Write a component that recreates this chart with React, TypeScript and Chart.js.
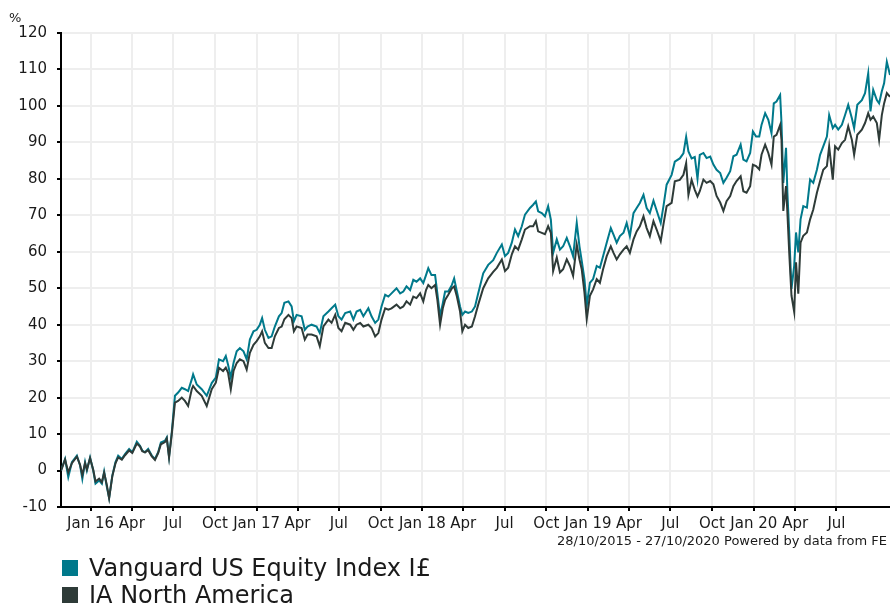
import React, { useEffect, useRef } from "react";
import { Chart, registerables } from "chart.js";

Chart.register(...registerables);

const FONT = "'DejaVu Sans', Verdana, sans-serif";
const START = Date.UTC(2015, 9, 28);
const END_DAY = 1826;

// Days since 28/10/2015
const days = [
  0, 9, 16, 24, 35, 42, 47, 53, 57, 64, 71, 76, 84, 90, 95, 101, 106, 113, 120, 126,
  134, 141, 150, 157, 167, 174, 179, 185, 192, 200, 207, 214, 220, 229, 233, 238, 244, 251, 258, 266,
  273, 280, 288, 291, 299, 310, 321, 332, 341, 348, 357, 363, 368, 374, 380, 387, 394, 402, 409, 416,
  424, 431, 438, 443, 449, 457, 464, 471, 480, 486, 492,
  501, 508, 513, 519, 530, 537, 543, 552, 563, 570, 578, 589, 596, 604, 611, 618, 626, 637, 644, 651,
  659, 666, 677, 684, 692, 699, 706, 714, 721, 728, 739, 747, 754, 761, 769, 776, 783, 791, 798, 804,
  809, 816, 824, 829, 835, 841, 846, 853, 861, 866, 872, 879, 884, 890, 897, 905, 912, 919, 930, 941, 952,
  960, 971, 978, 985, 993, 1000, 1007, 1015, 1022, 1033, 1040, 1046, 1051, 1059, 1066, 1073, 1079, 1084, 1092, 1099,
  1106, 1114, 1121, 1128, 1136, 1142, 1147, 1153, 1158, 1165, 1172, 1180, 1187, 1194, 1202, 1211, 1217, 1224, 1231, 1239,
  1246, 1253, 1261, 1268, 1275, 1283, 1290, 1297, 1305, 1312, 1321, 1327, 1334, 1345, 1352, 1363, 1371, 1377, 1382, 1389,
  1396, 1402,
  1407, 1415, 1422, 1430, 1437, 1444, 1452, 1459, 1466, 1474, 1481, 1488, 1497, 1503, 1510, 1518, 1524, 1531, 1538, 1543,
  1551, 1558, 1565, 1570, 1576, 1584, 1587, 1591, 1597, 1600, 1604, 1609, 1615, 1619, 1624, 1629, 1635, 1643, 1650, 1657,
  1665, 1672, 1679, 1687, 1692, 1700, 1705, 1712, 1720, 1727, 1734, 1742, 1747, 1754, 1764, 1771, 1778, 1783, 1789, 1797,
  1802, 1808, 1813, 1819, 1826,
];

const vanguard = [
  0, 3.2, -1.8, 2.3, 4.1, 1.4, -2.3, 2.3, 0, 3.6, 0, -3.6, -2.7, -3.6, -0.3, -4.5, -7.5, -1.4, 2.3, 4.1,
  3.2, 4.5, 5.9, 5.0, 7.9, 6.8, 5.5, 5.0, 5.9, 4.1, 3.2, 5.0, 7.7, 8.2, 9.1, 3.8, 10.5, 20.5, 21.4, 22.7,
  22.3, 21.8, 25.0, 26.4, 23.6, 22.3, 20.5, 24.0, 25.5, 30.5, 30.0, 31.4, 29.0, 25.5, 29.5, 32.7, 33.6, 32.7, 30.5, 35.9,
  38.2, 38.6, 40.0, 41.8, 38.6, 36.4, 36.8, 39.5, 42.3, 43.2, 46.0,
  46.4, 45.0, 40.9, 42.7, 42.3, 38.6, 39.5, 40.0, 39.5, 37.7, 42.3, 43.6, 44.5, 45.5, 42.3, 41.4, 43.2, 43.6, 41.4, 43.6,
  44.1, 42.3, 44.5, 42.3, 40.5, 41.4, 45.0, 48.2, 47.7, 48.6, 50.0, 48.6, 49.1, 50.5, 49.5, 52.3, 51.8, 52.7, 51.4, 53.6,
  55.5, 53.6, 53.6, 48.6, 42.3, 45.9, 49.1, 49.1, 50.9, 52.7, 49.1, 45.0, 42.7, 43.6, 43.2, 43.6, 45.0, 48.6, 54.1, 56.4, 57.7,
  59.7, 62.0, 58.8, 59.7, 62.5, 66.1, 64.3, 67.0, 70.2, 72.0, 72.9, 73.8, 71.1, 70.6, 69.7, 72.5, 68.8, 59.7, 63.4, 60.6,
  61.5, 63.8, 61.5, 58.8, 67.9, 61.5, 57.5, 52.5, 45.2, 51.5, 52.5, 56.1, 55.6, 58.8, 62.5, 66.5, 64.7, 62.5, 64.3, 65.2,
  67.9, 64.3, 70.6, 72.0, 73.4, 75.6, 72.0, 70.6, 74.0, 71.3, 67.9, 72.5, 78.4, 81.1, 84.7, 85.6, 87.0, 91.5, 87.5, 85.6,
  86.0, 80.0,
  86.6, 87.1, 85.7, 86.1, 83.9, 82.5, 81.6, 78.9, 80.3, 82.1, 86.2, 86.6, 89.4, 85.3, 84.8, 87.1, 93.0, 91.6, 91.6, 94.8,
  98.0, 96.2, 92.5, 100.7, 101.2, 103.0, 95.3, 78.9, 88.5, 76.2, 65.3, 49.8, 56.2, 65.3, 59.8, 68.9, 72.5, 72.1, 79.8, 78.9,
  82.5, 86.6, 88.9, 91.6, 97.5, 93.9, 94.8, 93.5, 94.8, 97.5, 100.3, 96.6, 93.9, 100.3, 101.6, 103.5, 108.9, 98.5, 104.4, 101.6,
  100.7, 104.0, 106.2, 112.1, 108.5,
];

const iaNorthAmerica = [
  0, 3.0, -0.5, 2.0, 3.8, 1.6, -1.2, 2.0, 0.3, 3.4, 0.2, -3.0, -2.2, -3.2, -0.6, -4.0, -7.6, -1.6, 2.0, 3.6,
  3.0, 4.2, 5.5, 4.8, 7.4, 6.6, 5.3, 5.0, 5.6, 3.9, 2.9, 4.8, 7.2, 7.8, 8.8, 3.6, 10.0, 18.6, 19.1, 20.0,
  19.1, 17.7, 22.3, 23.2, 21.8, 20.5, 17.7, 22.3, 24.1, 28.2, 27.3, 28.2, 26.8, 22.3, 27.3, 29.5, 30.5, 30.0, 27.7, 32.3,
  34.5, 35.5, 36.8, 38.2, 35.0, 33.6, 33.6, 36.8, 39.1, 39.5, 41.5,
  42.7, 41.8, 38.2, 39.5, 39.1, 35.9, 37.3, 37.3, 36.8, 34.1, 39.5, 41.4, 40.5, 42.7, 39.1, 38.2, 40.5, 40.0, 38.6, 40.0,
  40.5, 39.5, 40.0, 39.1, 36.8, 37.7, 41.4, 44.5, 44.1, 44.5, 45.5, 44.5, 45.0, 46.4, 45.5, 47.7, 47.3, 48.6, 46.4, 49.5,
  50.9, 50.0, 50.9, 46.8, 40.0, 44.5, 46.8, 48.2, 50.0, 50.5, 47.7, 43.6, 38.2, 40.0, 39.1, 39.5, 42.3, 45.5, 50.0, 52.7, 54.5,
  55.6, 57.9, 54.7, 55.6, 59.3, 61.5, 60.6, 63.4, 66.1, 67.0, 67.0, 68.4, 65.6, 65.2, 64.8, 67.0, 65.2, 54.7, 58.4, 54.3,
  55.2, 57.9, 56.1, 53.4, 62.0, 57.9, 55.2, 48.8, 41.5, 47.9, 49.7, 52.5, 51.5, 55.2, 58.8, 61.5, 59.7, 57.9, 59.3, 60.6,
  61.5, 59.7, 63.4, 65.6, 67.0, 69.7, 66.5, 64.3, 68.4, 66.1, 62.9, 67.5, 72.5, 73.4, 79.3, 79.7, 81.1, 84.3, 75.6, 79.7,
  77.0, 75.2,
  76.6, 79.8, 78.9, 79.4, 78.5, 75.3, 73.5, 71.2, 73.9, 75.3, 78.0, 79.4, 80.7, 76.6, 76.2, 78.0, 83.9, 83.5, 82.6, 86.6,
  89.4, 87.1, 83.9, 91.6, 92.1, 94.8, 90.7, 71.2, 78.0, 70.7, 59.8, 48.0, 43.5, 57.1, 48.5, 62.5, 64.4, 65.3, 68.9, 71.6,
  76.2, 79.4, 82.5, 83.5, 88.9, 79.8, 88.9, 88.0, 89.8, 90.7, 94.4, 90.7, 86.6, 92.1, 93.5, 95.3, 98.0, 96.2, 97.1, 95.3,
  90.7, 97.5, 100.7, 103.5, 102.5,
];

const tickDates = [
  "2016-01-01", "2016-04-01", "2016-07-01", "2016-10-01",
  "2017-01-01", "2017-04-01", "2017-07-01", "2017-10-01",
  "2018-01-01", "2018-04-01", "2018-07-01", "2018-10-01",
  "2019-01-01", "2019-04-01", "2019-07-01", "2019-10-01",
  "2020-01-01", "2020-04-01", "2020-07-01",
];
const tickLabels = [
  "Jan 16", "Apr", "Jul", "Oct", "Jan 17", "Apr", "Jul", "Oct", "Jan 18", "Apr",
  "Jul", "Oct", "Jan 19", "Apr", "Jul", "Oct", "Jan 20", "Apr", "Jul",
];

const seriesNames = ["Vanguard US Equity Index I£", "IA North America"];
const seriesColors = ["#00798b", "#2e3b38"];
const footnote = "28/10/2015 - 27/10/2020 Powered by data from FE";

const dayOf = (iso: string) => {
  const [y, m, d] = iso.split("-").map(Number);
  return Math.round((Date.UTC(y, m - 1, d) - START) / 86400000);
};
const tickDays = tickDates.map(dayOf);

export default function App() {
  const ref = useRef<HTMLCanvasElement | null>(null);

  useEffect(() => {
    if (!ref.current) return;
    const series = [vanguard, iaNorthAmerica];
    const chart = new Chart(ref.current, {
      type: "line",
      data: {
        datasets: series.map((vals, k) => ({
          label: seriesNames[k],
          data: days.map((d, i) => ({ x: d, y: vals[i] })),
          borderColor: seriesColors[k],
          backgroundColor: seriesColors[k],
          borderWidth: 2,
          pointRadius: 0,
          fill: false,
          tension: 0,
          order: k === 0 ? 1 : 0,
        })),
      },
      options: {
        responsive: false,
        animation: false,
        devicePixelRatio: 1,
        layout: { padding: { top: 33, left: 0, right: 0, bottom: 0 } },
        plugins: { legend: { display: false }, tooltip: { enabled: false } },
        scales: {
          x: {
            type: "linear",
            min: 0,
            max: END_DAY,
            afterBuildTicks: (s: any) => {
              s.ticks = tickDays.map((v) => ({ value: v }));
            },
            afterFit: (s: any) => {
              s.height = 97;
            },
            ticks: {
              autoSkip: false,
              maxRotation: 0,
              minRotation: 0,
              padding: 4,
              color: "#1a1a1a",
              font: { family: FONT, size: 15 },
              callback: (_v: any, i: number) => tickLabels[i],
            },
            grid: {
              color: "#eeeeee",
              lineWidth: 2,
              tickColor: "#000",
              tickLength: 4,
              tickWidth: 2,
            },
            border: { color: "#000", width: 2 },
          },
          y: {
            min: -10,
            max: 120,
            afterFit: (s: any) => {
              s.width = 61;
            },
            ticks: {
              stepSize: 10,
              padding: 10,
              color: "#1a1a1a",
              font: { family: FONT, size: 15 },
            },
            grid: {
              color: "#eeeeee",
              lineWidth: 2,
              tickColor: "#000",
              tickLength: 4,
              tickWidth: 2,
            },
            border: { color: "#000", width: 2 },
          },
        },
      },
    } as any);
    return () => chart.destroy();
  }, []);

  const text: React.CSSProperties = {
    position: "absolute",
    fontFamily: FONT,
    color: "#1a1a1a",
    whiteSpace: "nowrap",
    lineHeight: 1,
  };

  return (
    <div style={{ position: "fixed", left: 0, top: 0, width: 890, height: 604, background: "#fff", overflow: "hidden" }}>
      <canvas ref={ref} width={890} height={604} style={{ position: "absolute", left: 0, top: 0, width: 890, height: 604 }} />
      <span style={{ ...text, left: 9, top: 11, fontSize: 13 }}>%</span>
      <span style={{ ...text, right: 3, top: 534, fontSize: 13 }}>{footnote}</span>
      {seriesNames.map((name, k) => (
        <div key={name} style={{ position: "absolute", left: 62, top: 556 + k * 27, height: 27 }}>
          <span style={{ position: "absolute", left: 0, top: 4, width: 16, height: 16, background: seriesColors[k] }} />
          <span style={{ ...text, left: 27, top: 0, fontSize: 24 }}>{name}</span>
        </div>
      ))}
    </div>
  );
}
